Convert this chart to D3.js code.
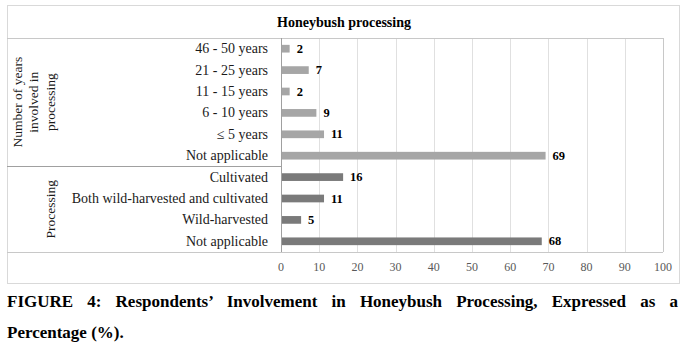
<!DOCTYPE html>
<html lang="en">
<head>
<meta charset="UTF-8">
<title>Honeybush processing</title>
<script src="https://d3js.org/d3.v7.min.js"></script>
<style>
  body { margin: 0; background: #fff; }
  #wrap { position: relative; width: 685px; height: 350px; }
  svg { position: absolute; left: 0; top: 0; }
  svg text, .caption { font-family: 'Liberation Serif', 'Times New Roman', 'DejaVu Serif', serif; }
  .caption { position: absolute; left: 7px; width: 671px; font-weight: bold; font-size: 17px; color: #000; }
  #cap1 { top: 292px; text-align: justify; text-align-last: justify; white-space: nowrap; }
  #cap2 { top: 323px; }
</style>
</head>
<body>
<div id="wrap">
  <svg id="chart" width="685" height="350"></svg>
  <div class="caption" id="cap1">FIGURE 4: Respondents’ Involvement in Honeybush Processing, Expressed as a</div>
  <div class="caption" id="cap2">Percentage (%).</div>
</div>
<script>
    // categories top to bottom, with their percentages
    categories = ["46 - 50 years", "21 - 25 years", "11 - 15 years", "6 - 10 years", "\u2264 5 years",
        "Not applicable", "Cultivated", "Both wild-harvested and cultivated", "Wild-harvested", "Not applicable"];
    values = [2, 7, 2, 9, 11, 69, 16, 11, 5, 68];
    // which group each row belongs to
    rowGroup = [0, 0, 0, 0, 0, 0, 1, 1, 1, 1];
    groupLabels = [["Number of years", "involved in", "processing"], ["Processing"]];
    groupColors = ["#a6a6a6", "#7a7a7a"];
    xTicks = [0, 10, 20, 30, 40, 50, 60, 70, 80, 90, 100];

    svg = d3.select("#chart");

    box = {left: 7, top: 5, right: 679, bottom: 283};
    plot = {left: 281, right: 663, top: 38, bottom: 252};

    // outer frame
    svg.append("rect")
        .attr("x", box.left + 0.5).attr("y", box.top + 0.5)
        .attr("width", box.right - box.left).attr("height", box.bottom - box.top)
        .attr("fill", "none").attr("stroke", "#d9d9d9");

    svg.append("text")
        .attr("x", 344).attr("y", 22)
        .attr("text-anchor", "middle").attr("dominant-baseline", "central")
        .style("font-size", "14px").style("font-weight", "bold")
        .text("Honeybush processing");

    xScale = d3.scaleLinear().domain([0, 100]).range([plot.left, plot.right]);
    yScale = d3.scaleBand()
        .domain(d3.range(categories.length))
        .range([plot.top, plot.bottom])
        .paddingInner(0.64).paddingOuter(0.32);

    // gridlines
    svg.append("g").selectAll("line")
        .data(xTicks.slice(1))
        .join("line")
        .attr("x1", d => Math.round(xScale(d)) + 0.5).attr("x2", d => Math.round(xScale(d)) + 0.5)
        .attr("y1", plot.top).attr("y2", plot.bottom)
        .attr("stroke", d => d === 100 ? "#c8c8c8" : "#e0e0e0");

    // horizontal rules: top, group separators, bottom
    step = (plot.bottom - plot.top) / categories.length;
    sepRows = [0];
    rowGroup.forEach((g, i) => { if (i > 0 && g !== rowGroup[i - 1]) sepRows.push(i); });
    sepRows.push(categories.length);
    svg.append("g").selectAll("line")
        .data(sepRows)
        .join("line")
        .attr("x1", box.left)
        .attr("x2", (d, i) => (i === 0 || d === categories.length) ? plot.right : plot.left)
        .attr("y1", d => Math.round(plot.top + d * step) + 0.5)
        .attr("y2", d => Math.round(plot.top + d * step) + 0.5)
        .attr("stroke", d => (d === 0 || d === categories.length) ? "#c8c8c8" : "#a0a0a0");

    // value axis line
    svg.append("line")
        .attr("x1", plot.left + 0.5).attr("x2", plot.left + 0.5)
        .attr("y1", plot.top).attr("y2", plot.bottom)
        .attr("stroke", "#a0a0a0");

    // bars
    svg.append("g").selectAll("rect")
        .data(values)
        .join("rect")
        .attr("x", xScale(0) + 1)
        .attr("y", (d, i) => yScale(i))
        .attr("width", d => xScale(d) - xScale(0))
        .attr("height", yScale.bandwidth())
        .attr("fill", (d, i) => groupColors[rowGroup[i]]);

    // value labels
    svg.append("g").selectAll("text")
        .data(values)
        .join("text")
        .attr("x", d => xScale(d) + 8)
        .attr("y", (d, i) => yScale(i) + yScale.bandwidth() / 2)
        .attr("dominant-baseline", "central")
        .style("font-size", "12.5px").style("font-weight", "bold")
        .text(d => d);

    // category labels
    svg.append("g").selectAll("text")
        .data(categories)
        .join("text")
        .attr("x", 268)
        .attr("y", (d, i) => yScale(i) + yScale.bandwidth() / 2)
        .attr("text-anchor", "end").attr("dominant-baseline", "central")
        .style("font-size", "14px").attr("fill", "#1a1a1a")
        .text(d => d);

    // group labels, rotated
    groupLabels.forEach((lines, g) => {
        const rows = d3.range(categories.length).filter(i => rowGroup[i] === g);
        const cy = plot.top + (rows[0] + rows.length / 2) * step;
        const x0 = 50 - (lines.length - 1) * 16.5;
        lines.forEach((line, j) => {
            svg.append("text")
                .attr("transform", `translate(${x0 + j * 16.5},${cy}) rotate(-90)`)
                .attr("text-anchor", "middle").attr("dominant-baseline", "central")
                .style("font-size", "13.5px").attr("fill", "#1a1a1a")
                .text(line);
        });
    });

    // x tick labels
    svg.append("g").selectAll("text")
        .data(xTicks)
        .join("text")
        .attr("x", d => xScale(d))
        .attr("y", 267)
        .attr("text-anchor", "middle").attr("dominant-baseline", "central")
        .style("font-size", "12px").attr("fill", "#595959")
        .text(d => d);
</script>
</body>
</html>
